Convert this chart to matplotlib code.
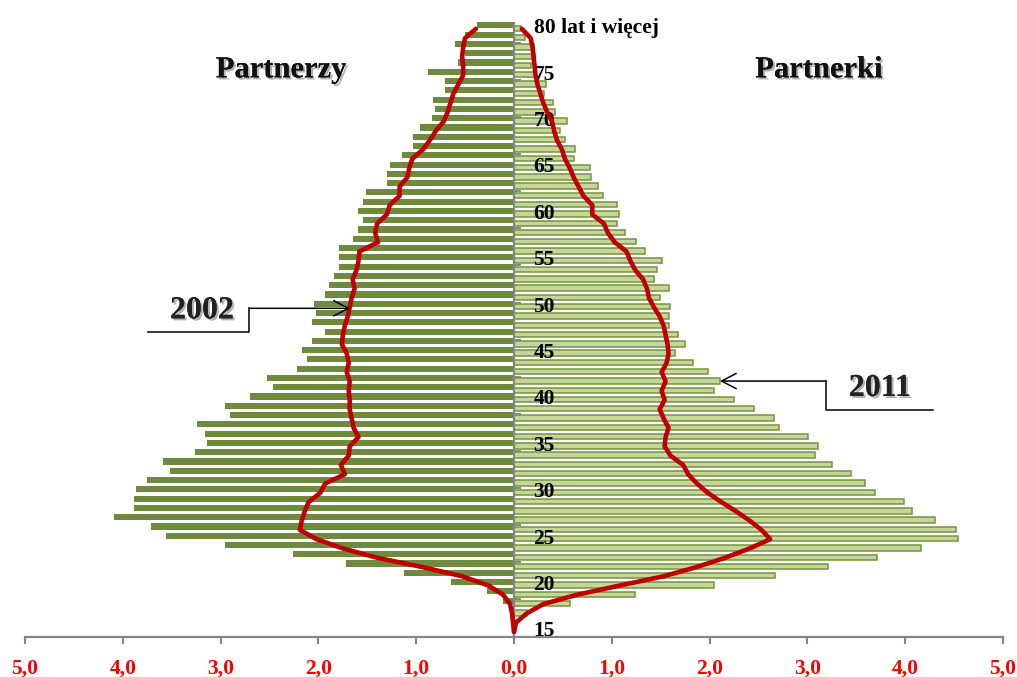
import matplotlib
matplotlib.use("Agg")
import matplotlib.pyplot as plt
import matplotlib.patheffects as pe
import numpy as np

# ---------------- data ----------------
ages = list(range(15, 81))

# 2011 - partners (men), % (left bars)
male_2011 = [0.00, 0.01, 0.03, 0.11, 0.28, 0.64, 1.12, 1.72, 2.26, 2.96,
             3.56, 3.71, 4.09, 3.89, 3.89, 3.87, 3.75, 3.52, 3.59, 3.26,
             3.14, 3.16, 3.24, 2.90, 2.95, 2.70, 2.46, 2.53, 2.22, 2.12,
             2.17, 2.07, 1.93, 2.07, 2.02, 2.05, 1.93, 1.89, 1.84, 1.79,
             1.79, 1.79, 1.65, 1.60, 1.54, 1.59, 1.54, 1.51, 1.30, 1.30,
             1.27, 1.15, 1.03, 1.03, 0.96, 0.84, 0.81, 0.83, 0.71, 0.71,
             0.88, 0.57, 0.50, 0.60, 0.50, 0.38]

# 2011 - partners (women), % (right bars)
female_2011 = [0.00, 0.01, 0.13, 0.57, 1.24, 2.05, 2.67, 3.21, 3.71, 4.16,
               4.54, 4.52, 4.30, 4.07, 3.99, 3.69, 3.59, 3.45, 3.25, 3.08,
               3.11, 3.01, 2.71, 2.66, 2.45, 2.25, 2.04, 2.11, 1.98, 1.83,
               1.65, 1.75, 1.68, 1.58, 1.58, 1.60, 1.49, 1.58, 1.43, 1.46,
               1.51, 1.34, 1.25, 1.13, 1.05, 1.07, 1.05, 0.91, 0.86, 0.79,
               0.78, 0.61, 0.62, 0.52, 0.47, 0.54, 0.42, 0.40, 0.31, 0.33,
               0.21, 0.17, 0.21, 0.20, 0.11, 0.07]

# 2002 - men (red line, left)
male_2002 = [0.00, 0.01, 0.02, 0.04, 0.11, 0.26, 0.53, 0.94, 1.40, 1.75,
             2.02, 2.19, 2.17, 2.14, 2.10, 1.98, 1.93, 1.73, 1.77, 1.69,
             1.68, 1.59, 1.64, 1.66, 1.68, 1.68, 1.69, 1.68, 1.71, 1.69,
             1.71, 1.76, 1.75, 1.73, 1.70, 1.68, 1.66, 1.63, 1.65, 1.61,
             1.59, 1.58, 1.39, 1.42, 1.40, 1.30, 1.27, 1.17, 1.17, 1.09,
             1.07, 1.04, 0.93, 0.86, 0.80, 0.72, 0.68, 0.65, 0.62, 0.57,
             0.52, 0.52, 0.53, 0.52, 0.50, 0.39]

# 2002 - women (red line, right)
female_2002 = [0.00, 0.02, 0.13, 0.30, 0.64, 1.08, 1.53, 1.87, 2.16, 2.41,
               2.62, 2.53, 2.41, 2.27, 2.12, 1.98, 1.87, 1.78, 1.73, 1.60,
               1.54, 1.55, 1.58, 1.53, 1.49, 1.54, 1.51, 1.55, 1.51, 1.56,
               1.58, 1.57, 1.55, 1.53, 1.49, 1.43, 1.38, 1.36, 1.32, 1.24,
               1.19, 1.15, 1.03, 0.96, 0.92, 0.80, 0.80, 0.71, 0.66, 0.61,
               0.57, 0.52, 0.49, 0.44, 0.41, 0.39, 0.34, 0.30, 0.27, 0.24,
               0.22, 0.21, 0.20, 0.19, 0.17, 0.08]

label_ages = [15, 20, 25, 30, 35, 40, 45, 50, 55, 60, 65, 70, 75, 80]
label_texts = ["15", "20", "25", "30", "35", "40", "45", "50", "55", "60",
               "65", "70", "75", "80 lat i więcej"]
x_ticks = [-5, -4, -3, -2, -1, 0, 1, 2, 3, 4, 5]
x_tick_labels = ["5,0", "4,0", "3,0", "2,0", "1,0", "0,0",
                 "1,0", "2,0", "3,0", "4,0", "5,0"]

# ---------------- style ----------------
SERIF = ["Liberation Serif", "DejaVu Serif"]
DARK_GREEN = "#6E8B3D"
LIGHT_GREEN = "#C4D79B"
EDGE_GREEN = "#77933C"
RED = "#C00000"
GRAY = "#868686"

fig = plt.figure(figsize=(10.17, 6.77), dpi=100)
ax = fig.add_axes([0.02458, 0.0597, 0.96165, 0.9073])
ax.set_xlim(-5, 5)
ax.set_ylim(-0.5, 65.7)

pos = np.arange(len(ages))

ax.barh(pos + 0.37, -np.array(male_2011), height=0.66, color=DARK_GREEN,
        linewidth=0, zorder=2)
ax.barh(pos + 0.05, female_2011, height=0.58, color=LIGHT_GREEN,
        edgecolor=EDGE_GREEN, linewidth=1.1, zorder=2)

# vertical axis + small ticks
ax.axvline(0, color=GRAY, lw=1.6, zorder=4)
tick_rows = np.arange(-0.5, 65, 4)
ax.hlines(tick_rows, 0, 0.07, color=GRAY, lw=1.4, zorder=4)

# age labels
for a, t in zip(label_ages, label_texts):
    ax.text(0.2, (a - 15) - 0.47, t, ha="left", va="baseline",
            fontsize=15.5, fontweight="bold", family=SERIF, color="black",
            zorder=6)

# 2002 lines
ax.plot(-np.array(male_2002), pos, color=RED, lw=3.3, zorder=7,
        solid_joinstyle="round", solid_capstyle="round")
ax.plot(female_2002, pos, color=RED, lw=3.3, zorder=7,
        solid_joinstyle="round", solid_capstyle="round")

# titles
shadow = [pe.withSimplePatchShadow(offset=(1.5, -1.5), shadow_rgbFace="#7f7f7f",
                                   alpha=0.6), pe.Normal()]
ax.text(-2.38, 59.77, "Partnerzy", ha="center", va="baseline", fontsize=22,
        fontweight="bold", family=SERIF, color="#111111", path_effects=shadow)
ax.text(3.12, 59.77, "Partnerki", ha="center", va="baseline", fontsize=22,
        fontweight="bold", family=SERIF, color="#111111", path_effects=shadow)
ax.text(-3.19, 33.8, "2002", ha="center", va="baseline", fontsize=23,
        fontweight="bold", family=SERIF, color="#222222", path_effects=shadow)
ax.text(3.74, 25.43, "2011", ha="center", va="baseline", fontsize=23,
        fontweight="bold", family=SERIF, color="#222222", path_effects=shadow)

# annotation arrows
ax.plot([-3.742, -2.71, -2.71], [32.36, 32.36, 34.88], color="black", lw=1.1,
        zorder=8)
ax.annotate("", xy=(-1.677, 34.88), xytext=(-2.71, 34.88),
            arrowprops=dict(arrowstyle="->,head_length=1.05,head_width=0.55",
                            lw=1.1, color="black", shrinkA=0, shrinkB=0),
            zorder=8)
ax.plot([4.284, 3.19, 3.19], [23.92, 23.92, 27.04], color="black", lw=1.1,
        zorder=8)
ax.annotate("", xy=(2.106, 27.04), xytext=(3.19, 27.04),
            arrowprops=dict(arrowstyle="->,head_length=1.05,head_width=0.55",
                            lw=1.1, color="black", shrinkA=0, shrinkB=0),
            zorder=8)

# x axis
for s in ["top", "right", "left"]:
    ax.spines[s].set_visible(False)
ax.spines["bottom"].set_color(GRAY)
ax.spines["bottom"].set_linewidth(1.6)
ax.set_yticks([])
ax.set_xticks(x_ticks)
ax.set_xticklabels(x_tick_labels)
ax.tick_params(axis="x", direction="out", length=5, width=1.5, color=GRAY,
               pad=11, labelcolor="#FF0000", labelsize=15.5)
for lbl in ax.get_xticklabels():
    lbl.set_fontweight("bold")
    lbl.set_family(SERIF)

fig.savefig("out.png", dpi=100, facecolor="white")
